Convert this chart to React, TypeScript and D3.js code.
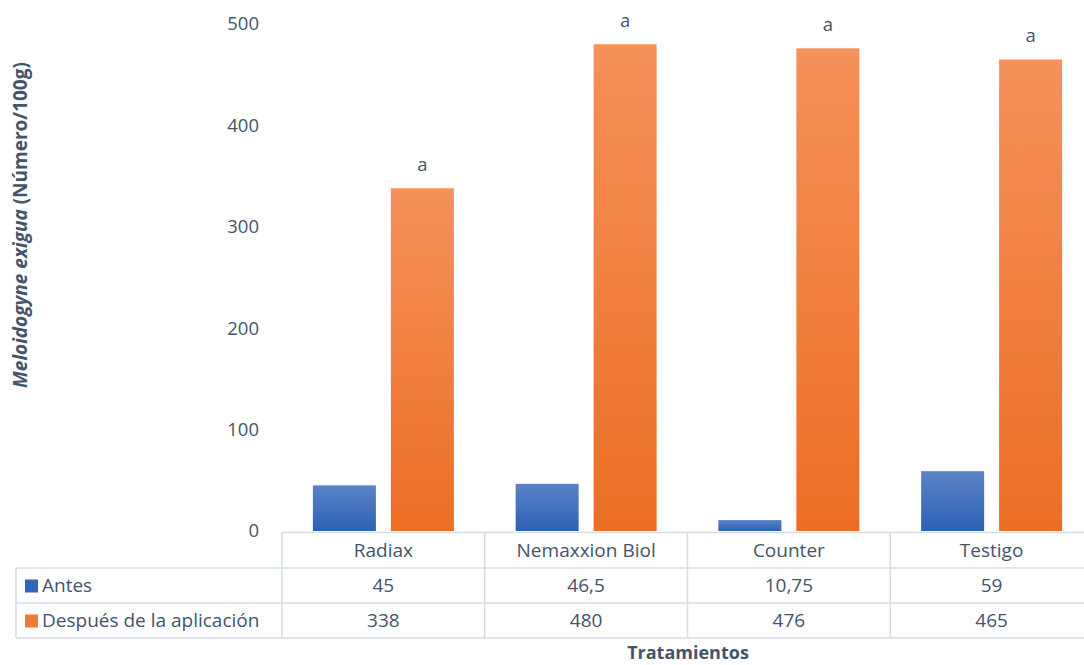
import React from "react";
import * as d3 from "d3";

const categories = ["Radiax", "Nemaxxion Biol", "Counter", "Testigo"];
const antes = [45, 46.5, 10.75, 59];
const despues = [338, 480, 476, 465];
const antesLabels = ["45", "46,5", "10,75", "59"];
const despuesLabels = ["338", "480", "476", "465"];
const letters = ["a", "a", "a", "a"];
const yTicks = [0, 100, 200, 300, 400, 500];
const seriesNames = ["Antes", "Después de la aplicación"];

const W = 1084;
const H = 665;
const plotLeft = 282;
const plotRight = 1093;
const y0 = 531;
const y500 = 24;
const tableLeft = 16;
const rowLines = [532, 568, 603, 638];
const textColor = "#44546A";
const gridColor = "#D5DCE4";
const FONT = "'Open Sans', sans-serif";

export default function App() {
  const x = d3.scaleBand<string>().domain(categories).range([plotLeft, plotRight]).paddingInner(0).paddingOuter(0);
  const inner = d3.scaleBand<string>().domain(["antes", "despues"]).range([0, x.bandwidth()]).paddingInner(0.192).paddingOuter(0.396);
  const y = d3.scaleLinear().domain([0, 500]).range([y0, y500]);
  const bw = inner.bandwidth();

  return (
    <svg width={W} height={H} style={{ position: "absolute", left: 0, top: 0, background: "#fff" }} fontFamily={FONT}>
      <defs>
        <linearGradient id="gBlue" x1="0" y1="0" x2="0" y2="1">
          <stop offset="0" stopColor="#5B83C7" />
          <stop offset="1" stopColor="#2C61B4" />
        </linearGradient>
        <linearGradient id="gOrange" x1="0" y1="0" x2="0" y2="1">
          <stop offset="0" stopColor="#F5915A" />
          <stop offset="1" stopColor="#EC6E24" />
        </linearGradient>
      </defs>
      <rect x={0} y={0} width={W} height={H} fill="#fff" />

      {/* y ticks */}
      {yTicks.map((t) => (
        <text key={t} x={259} y={y(t)} dy="0.35em" textAnchor="end" fontSize={18.5} fill={textColor}>
          {t}
        </text>
      ))}

      {/* y title */}
      <text transform={`translate(27,${225}) rotate(-90)`} textAnchor="middle" fontSize={19} fontWeight="bold" fill={textColor}>
        <tspan fontStyle="italic">Meloidogyne exigua</tspan>
        <tspan> (Número/100g)</tspan>
      </text>

      {/* bars */}
      {categories.map((c, i) => (
        <g key={c}>
          <rect x={x(c)! + inner("antes")!} y={y(antes[i])} width={bw} height={y(0) - y(antes[i])} fill="url(#gBlue)" />
          <rect x={x(c)! + inner("despues")!} y={y(despues[i])} width={bw} height={y(0) - y(despues[i])} fill="url(#gOrange)" />
          <text x={x(c)! + inner("despues")! + bw / 2} y={y(despues[i]) - 24} dy="0.35em" textAnchor="middle" fontSize={18.5} fill={textColor}>
            {letters[i]}
          </text>
        </g>
      ))}

      {/* table grid */}
      <line x1={plotLeft} x2={W} y1={rowLines[0] + 0.5} y2={rowLines[0] + 0.5} stroke={gridColor} strokeWidth={1.5} />
      {rowLines.slice(1).map((ry) => (
        <line key={ry} x1={tableLeft} x2={W} y1={ry} y2={ry} stroke={gridColor} strokeWidth={1.5} />
      ))}
      <line x1={tableLeft} x2={tableLeft} y1={rowLines[1]} y2={rowLines[3]} stroke={gridColor} strokeWidth={1.5} />
      {categories.map((c) => (
        <line key={c} x1={x(c)!} x2={x(c)!} y1={rowLines[0]} y2={rowLines[3]} stroke={gridColor} strokeWidth={1.5} />
      ))}

      {/* table text */}
      {categories.map((c, i) => {
        const cx = x(c)! + x.bandwidth() / 2;
        return (
          <g key={c} fontSize={19} fill={textColor} textAnchor="middle">
            <text x={cx} y={(rowLines[0] + rowLines[1]) / 2} dy="0.35em">{c}</text>
            <text x={cx} y={(rowLines[1] + rowLines[2]) / 2} dy="0.35em">{antesLabels[i]}</text>
            <text x={cx} y={(rowLines[2] + rowLines[3]) / 2} dy="0.35em">{despuesLabels[i]}</text>
          </g>
        );
      })}

      {/* legend keys */}
      {seriesNames.map((s, i) => {
        const cy = (rowLines[i + 1] + rowLines[i + 2]) / 2;
        return (
          <g key={s}>
            <rect x={25} y={cy - 6} width={13} height={13} fill={i === 0 ? "#3366B8" : "#EF7A36"} />
            <text x={42} y={cy} dy="0.35em" fontSize={19} fill={textColor}>{s}</text>
          </g>
        );
      })}

      {/* x title */}
      <text x={688} y={653} dy="0.35em" textAnchor="middle" fontSize={18} fontWeight="bold" fill={textColor}>
        Tratamientos
      </text>
    </svg>
  );
}
